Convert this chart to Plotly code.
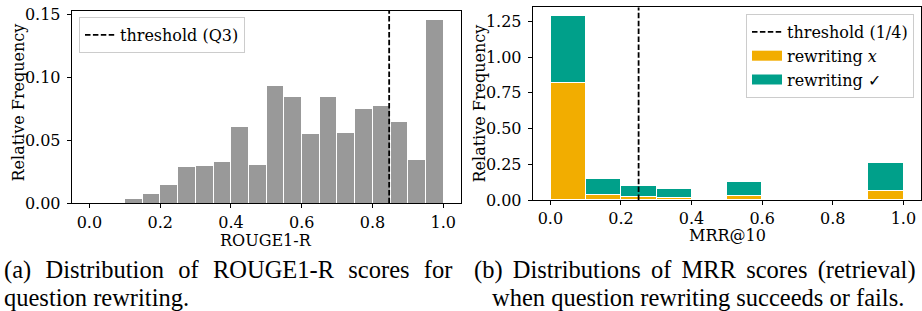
import plotly.graph_objects as go

# ---------------- data ----------------
rouge_bin_left = [0.00, 0.05, 0.10, 0.15, 0.20, 0.25, 0.30, 0.35, 0.40, 0.45,
                  0.50, 0.55, 0.60, 0.65, 0.70, 0.75, 0.80, 0.85, 0.90, 0.95]
rouge_freq = [0.000, 0.001, 0.0037, 0.0075, 0.0152, 0.0296, 0.0301, 0.0333, 0.0608, 0.0307,
              0.0939, 0.0853, 0.0552, 0.0853, 0.0563, 0.0755, 0.0779, 0.0653, 0.0347, 0.146]
rouge_bin_width = 0.05
rouge_threshold = 0.847

mrr_bin_left = [0.0, 0.1, 0.2, 0.3, 0.4, 0.5, 0.6, 0.7, 0.8, 0.9]
mrr_fail = [0.818, 0.035, 0.021, 0.014, 0.0, 0.026, 0.0, 0.0, 0.0, 0.063]
mrr_success = [0.467, 0.112, 0.077, 0.058, 0.0, 0.098, 0.0, 0.0, 0.0, 0.194]
mrr_bin_width = 0.1
mrr_threshold = 0.25

x_ticks = [0.0, 0.2, 0.4, 0.6, 0.8, 1.0]
rouge_y_ticks = [0.00, 0.05, 0.10, 0.15]
mrr_y_ticks = [0.00, 0.25, 0.50, 0.75, 1.00, 1.25]

caption_a = ["(a) Distribution of ROUGE1-R scores for", "question rewriting."]
caption_b = ["(b) Distributions of MRR scores (retrieval)", "when question rewriting succeeds or fails."]

# ---------------- style ----------------
W, H = 922, 311
GRAY = "#999999"
ORANGE = "#F2AD00"
TEAL = "#00A08A"
FONT = "DejaVu Serif"
FS = 16
CAP = "Liberation Serif"

def px_x(p):
    return p / W

def px_y(p):
    return 1 - p / H

def stretch(text, extra):
    # widen inter-word gaps to mimic the justified caption line
    return text.replace(" ", " " + extra)

fig = go.Figure()

# left histogram
fig.add_trace(go.Bar(
    x=rouge_bin_left, y=rouge_freq, width=rouge_bin_width, offset=0,
    marker=dict(color=GRAY, line=dict(color="white", width=1)),
    xaxis="x", yaxis="y", showlegend=False, hoverinfo="skip"))

rouge_ymax = max(rouge_freq) * 1.05
fig.add_trace(go.Scatter(
    x=[rouge_threshold, rouge_threshold], y=[0, rouge_ymax], mode="lines",
    line=dict(color="black", width=1.8, dash="5.5px,2.4px"),
    name="threshold (Q3)", xaxis="x", yaxis="y", legend="legend"))

# right stacked histogram
fig.add_trace(go.Bar(
    x=mrr_bin_left, y=mrr_fail, width=mrr_bin_width, offset=0,
    marker=dict(color=ORANGE, line=dict(color="white", width=1)),
    xaxis="x2", yaxis="y2", showlegend=False, hoverinfo="skip"))
fig.add_trace(go.Bar(
    x=mrr_bin_left, y=mrr_success, width=mrr_bin_width, offset=0,
    marker=dict(color=TEAL, line=dict(color="white", width=1)),
    xaxis="x2", yaxis="y2", showlegend=False, hoverinfo="skip"))

mrr_total = [a + b for a, b in zip(mrr_fail, mrr_success)]
mrr_ymax = max(mrr_total) * 1.05
fig.add_trace(go.Scatter(
    x=[mrr_threshold, mrr_threshold], y=[0, mrr_ymax], mode="lines",
    line=dict(color="black", width=1.8, dash="5.5px,2.4px"),
    name="threshold (1/4)", xaxis="x2", yaxis="y2", legend="legend2", legendgroup="a"))
# legend proxies for the stacked bars
fig.add_trace(go.Scatter(
    x=[None], y=[None], mode="lines", line=dict(color=ORANGE, width=10),
    name="rewriting <i>x</i>", xaxis="x2", yaxis="y2", legend="legend2", legendgroup="b"))
fig.add_trace(go.Scatter(
    x=[None], y=[None], mode="lines", line=dict(color=TEAL, width=10),
    name="rewriting ✓", xaxis="x2", yaxis="y2", legend="legend2", legendgroup="c"))

axis_common = dict(
    showline=True, linecolor="black", linewidth=1, mirror=True,
    ticks="outside", ticklen=4, tickwidth=1, tickcolor="black",
    showgrid=False, zeroline=False, automargin=False,
    tickfont=dict(family=FONT, size=FS, color="black"),
)

fig.update_layout(
    width=W, height=H,
    margin=dict(l=0, r=0, t=0, b=0, pad=0),
    paper_bgcolor="white", plot_bgcolor="white",
    barmode="stack", bargap=0,
    font=dict(family=FONT, size=FS, color="black"),
    xaxis=dict(domain=[px_x(71.7), px_x(461)], range=[-0.05, 1.05],
               tickvals=x_ticks, tickformat=".1f", anchor="y", **axis_common),
    yaxis=dict(domain=[px_y(203.3), px_y(10.5)], range=[0, rouge_ymax],
               tickvals=rouge_y_ticks, tickformat=".2f", anchor="x",
               ticklabelstandoff=3, **axis_common),
    xaxis2=dict(domain=[px_x(532.7), px_x(921)], range=[-0.05, 1.05],
                tickvals=x_ticks, tickformat=".1f", anchor="y2", **axis_common),
    yaxis2=dict(domain=[px_y(200), px_y(7.3)], range=[0, mrr_ymax],
                tickvals=mrr_y_ticks, tickformat=".2f", anchor="x2",
                ticklabelstandoff=3, **axis_common),
    legend=dict(x=px_x(79), y=px_y(17), xanchor="left", yanchor="top",
                bgcolor="rgba(255,255,255,0.8)", bordercolor="#cccccc", borderwidth=1,
                font=dict(family=FONT, size=FS)),
    legend2=dict(x=px_x(914), y=px_y(14), xanchor="right", yanchor="top",
                 bgcolor="rgba(255,255,255,0.8)", bordercolor="#cccccc", borderwidth=1,
                 font=dict(family=FONT, size=FS), traceorder="grouped", tracegroupgap=0),
)

# axis titles
TFONT = dict(family=FONT, size=FS, color="black")
fig.add_annotation(text="ROUGE1-R", xref="paper", yref="paper", x=px_x(266), y=px_y(240.5),
                   xanchor="center", yanchor="middle", showarrow=False, font=TFONT)
fig.add_annotation(text="MRR@10", xref="paper", yref="paper", x=px_x(727.5), y=px_y(235.5),
                   xanchor="center", yanchor="middle", showarrow=False, font=TFONT)
fig.add_annotation(text="Relative Frequency", xref="paper", yref="paper", x=px_x(18), y=px_y(102.5),
                   xanchor="center", yanchor="middle", textangle=-90, showarrow=False, font=TFONT)
fig.add_annotation(text="Relative Frequency", xref="paper", yref="paper", x=px_x(479), y=px_y(103.5),
                   xanchor="center", yanchor="middle", textangle=-90, showarrow=False, font=TFONT)

# sub-figure captions
CS = 24.5
fig.add_annotation(text=stretch(caption_a[0], "\u00a0\u200a"), xref="paper", yref="paper",
                   x=px_x(2), y=px_y(270), xanchor="left", yanchor="middle", showarrow=False,
                   font=dict(family=CAP, size=CS, color="black"))
fig.add_annotation(text=caption_a[1], xref="paper", yref="paper",
                   x=px_x(2), y=px_y(297), xanchor="left", yanchor="middle", showarrow=False,
                   font=dict(family=CAP, size=CS, color="black"))
fig.add_annotation(text=stretch(caption_b[0], "\u2006"), xref="paper", yref="paper",
                   x=px_x(695), y=px_y(270), xanchor="center", yanchor="middle", showarrow=False,
                   font=dict(family=CAP, size=CS, color="black"))
fig.add_annotation(text=caption_b[1], xref="paper", yref="paper",
                   x=px_x(698), y=px_y(297), xanchor="center", yanchor="middle", showarrow=False,
                   font=dict(family=CAP, size=CS, color="black"))

fig.write_html(
    "out.html",
    config={"displayModeBar": False},
    post_script="document.body.style.margin='0';document.body.style.padding='0';"
                "document.documentElement.style.overflow='hidden';",
)
